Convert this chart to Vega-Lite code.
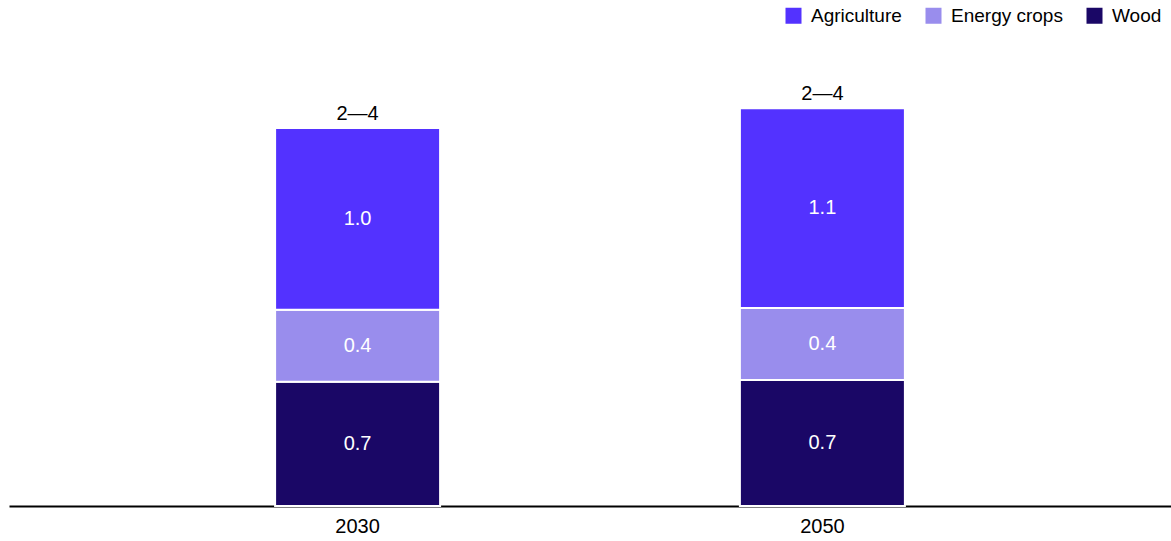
{
  "$schema": "https://vega.github.io/schema/vega-lite/v6.json",
  "width": 1162,
  "height": 468,
  "autosize": {"type": "none"},
  "padding": {"left": 9, "top": 38, "right": 0, "bottom": 35},
  "background": "white",
  "config": {
    "font": "Liberation Sans",
    "view": {"stroke": null}
  },
  "data": {
    "values": [
      {"year": "2030", "category": "Wood", "value": 0.69, "range": "2—4"},
      {"year": "2030", "category": "Energy crops", "value": 0.40, "range": "2—4"},
      {"year": "2030", "category": "Agriculture", "value": 1.01, "range": "2—4"},
      {"year": "2050", "category": "Wood", "value": 0.70, "range": "2—4"},
      {"year": "2050", "category": "Energy crops", "value": 0.40, "range": "2—4"},
      {"year": "2050", "category": "Agriculture", "value": 1.11, "range": "2—4"}
    ]
  },
  "transform": [
    {"stack": "value", "groupby": ["year"], "sort": [{"field": "category", "order": "descending"}], "as": ["v0", "v1"]},
    {"calculate": "(datum.v0 + datum.v1) / 2", "as": "mid"}
  ],
  "encoding": {
    "x": {
      "field": "year",
      "type": "nominal",
      "scale": {"paddingInner": 0, "paddingOuter": 0.25},
      "axis": {
        "title": null,
        "labelAngle": 0,
        "labelFontSize": 20,
        "labelColor": "#000000",
        "labelPadding": 10,
        "ticks": false,
        "domainColor": "#000000",
        "domainWidth": 2,
        "grid": false
      }
    }
  },
  "layer": [
    {
      "mark": {"type": "bar", "width": 165, "stroke": "white", "strokeWidth": 2},
      "encoding": {
        "y": {"field": "v0", "type": "quantitative", "scale": {"domain": [0, 2.6], "nice": false}, "axis": null},
        "y2": {"field": "v1"},
        "color": {
          "field": "category",
          "type": "nominal",
          "scale": {"domain": ["Agriculture", "Energy crops", "Wood"], "range": ["#5332FF", "#998DED", "#1A0766"]},
          "legend": {
            "title": null,
            "orient": "none",
            "direction": "horizontal",
            "legendX": 775,
            "legendY": -32,
            "symbolType": "square",
            "symbolSize": 256,
            "symbolStrokeWidth": 0,
            "labelFontSize": 19,
            "labelColor": "#000000",
            "columnPadding": 22,
            "labelOffset": 8
          }
        }
      }
    },
    {
      "mark": {"type": "text", "color": "white", "fontSize": 20, "baseline": "middle", "align": "center"},
      "encoding": {
        "y": {"field": "mid", "type": "quantitative"},
        "text": {"field": "value", "type": "quantitative", "format": ".1f"}
      }
    },
    {
      "transform": [{"filter": "datum.category == 'Agriculture'"}],
      "mark": {"type": "text", "color": "black", "fontSize": 20, "baseline": "alphabetic", "align": "center", "dy": -8},
      "encoding": {
        "y": {"field": "v1", "type": "quantitative"},
        "text": {"field": "range", "type": "nominal"}
      }
    }
  ]
}
